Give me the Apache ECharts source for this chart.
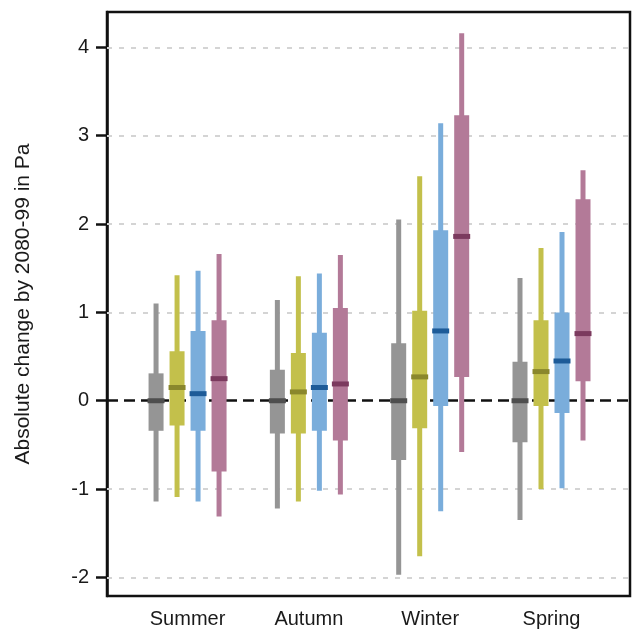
<!DOCTYPE html>
<html>
<head>
<meta charset="utf-8">
<script src="https://cdn.jsdelivr.net/npm/echarts@6/dist/echarts.min.js"></script>
<style>
  html, body { margin: 0; padding: 0; background: #fff; }
  #chart { width: 637px; height: 633px; }
</style>
</head>
<body>
<div id="chart"></div>
<script>
// seasons on the x axis
var seasons = ['Summer', 'Autumn', 'Winter', 'Spring'];
var yTicks = [-2, -1, 0, 1, 2, 3, 4];

// each row: [min, lower quartile, median, upper quartile, max] per season
var greyRanges = [
    [-1.14, -0.34, 0.00, 0.31, 1.10],
    [-1.22, -0.37, 0.00, 0.35, 1.14],
    [-1.97, -0.67, 0.00, 0.65, 2.05],
    [-1.35, -0.47, 0.00, 0.44, 1.39]
];
var yellowRanges = [
    [-1.09, -0.28, 0.15, 0.56, 1.42],
    [-1.14, -0.37, 0.10, 0.54, 1.41],
    [-1.76, -0.31, 0.27, 1.02, 2.54],
    [-1.00, -0.06, 0.33, 0.91, 1.73]
];
var blueRanges = [
    [-1.14, -0.34, 0.08, 0.79, 1.47],
    [-1.02, -0.34, 0.15, 0.77, 1.44],
    [-1.25, -0.06, 0.79, 1.93, 3.14],
    [-0.99, -0.14, 0.45, 1.00, 1.91]
];
var pinkRanges = [
    [-1.31, -0.80, 0.25, 0.91, 1.66],
    [-1.06, -0.45, 0.19, 1.05, 1.65],
    [-0.58, 0.27, 1.86, 3.23, 4.16],
    [-0.45, 0.22, 0.76, 2.28, 2.61]
];

var chart = echarts.init(document.getElementById('chart'));

//把每个季节的数据变成 [x, min, q1, med, q3, max]
function toData(rows) {
    return rows.map(function (r, i) {
        return [i + 1].concat(r);
    });
}

function makeSeries(name, rows, color, medColor, shift) {
    return {
        name: name,
        type: 'custom',
        z: 3,
        data: toData(rows),
        encode: { x: 0, y: [1, 2, 3, 4, 5] },
        renderItem: function (params, api) {
            var x = api.value(0);
            var lo = api.coord([x, api.value(1)]);
            var q1 = api.coord([x, api.value(2)]);
            var md = api.coord([x, api.value(3)]);
            var q3 = api.coord([x, api.value(4)]);
            var hi = api.coord([x, api.value(5)]);
            var cx = lo[0] + shift;
            return {
                type: 'group',
                children: [
                    {
                        type: 'rect',
                        shape: { x: cx - 2.5, y: hi[1], width: 5, height: lo[1] - hi[1] },
                        style: { fill: color }
                    },
                    {
                        type: 'rect',
                        shape: { x: cx - 7.5, y: q3[1], width: 15, height: q1[1] - q3[1] },
                        style: { fill: color }
                    },
                    {
                        type: 'rect',
                        shape: { x: cx - 8.5, y: md[1] - 2.5, width: 17, height: 5 },
                        style: { fill: medColor }
                    }
                ]
            };
        }
    };
}

var option = {
    animation: false,
    backgroundColor: '#fff',
    textStyle: { fontFamily: 'Liberation Sans, Arial, sans-serif' },
    grid: {
        left: 107, right: 7, top: 12, bottom: 37,
        show: true, borderColor: '#111', borderWidth: 2.5
    },
    xAxis: {
        type: 'value',
        min: 0.336,
        max: 4.647,
        axisLine: { show: false },
        axisTick: { show: false },
        splitLine: { show: false },
        axisLabel: {
            customValues: [1, 2, 3, 4],
            formatter: function (v) { return seasons[Math.round(v) - 1] || ''; },
            color: '#1a1a1a',
            fontSize: 20,
            margin: 13
        }
    },
    yAxis: {
        type: 'value',
        min: -2.21,
        max: 4.4,
        name: 'Absolute change by 2080-99 in Pa',
        nameLocation: 'middle',
        nameGap: 73,
        nameTextStyle: { fontSize: 21, color: '#1a1a1a' },
        axisLine: { show: true, lineStyle: { color: '#111', width: 2.5 } },
        axisTick: { show: true, customValues: yTicks, length: 11, lineStyle: { color: '#111', width: 2.5 } },
        axisLabel: { customValues: yTicks, fontSize: 20, color: '#1a1a1a', margin: 18 },
        splitLine: { show: false }
    },
    series: [
        {
            // 灰色虚线网格 + 0 线
            type: 'line',
            z: 1,
            data: [],
            silent: true,
            symbol: 'none',
            markLine: {
                z: 1,
                silent: true,
                symbol: 'none',
                label: { show: false },
                data: yTicks.filter(function (t) { return t !== 0; }).map(function (t) {
                    return { yAxis: t, lineStyle: { color: '#d4d4d4', width: 2, type: [5, 7] } };
                }).concat([{ yAxis: 0, lineStyle: { color: '#111', width: 2.5, type: [11, 6] } }])
            }
        },
        makeSeries('grey', greyRanges, '#959595', '#4e4e4e', -31.5),
        makeSeries('yellow', yellowRanges, '#c3c04b', '#8a872c', -10.5),
        makeSeries('blue', blueRanges, '#7aaddb', '#1d5b98', 10.5),
        makeSeries('pink', pinkRanges, '#b37a98', '#7b3a5e', 31.5)
    ]
};

chart.setOption(option);
</script>
</body>
</html>
